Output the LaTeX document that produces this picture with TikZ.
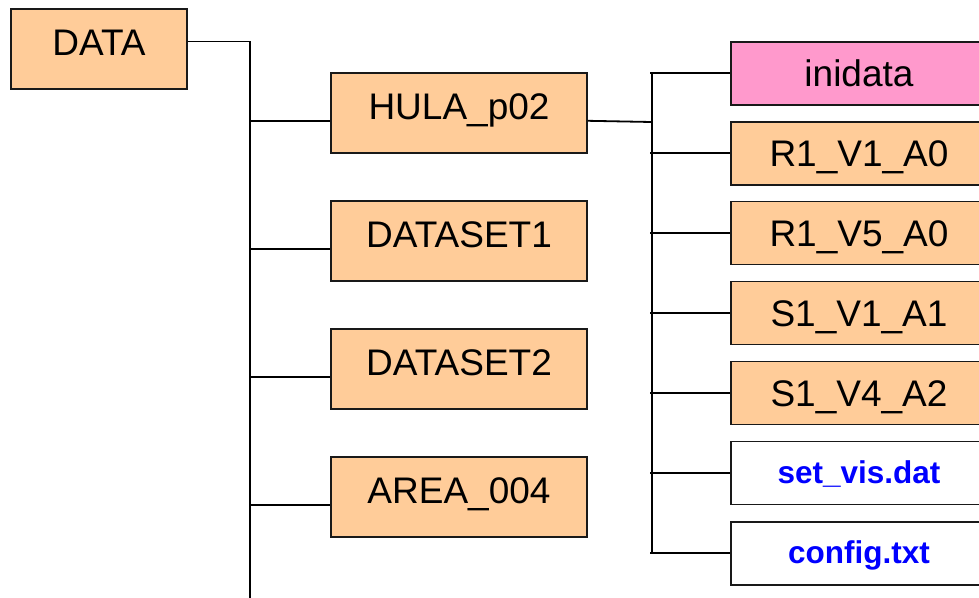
\documentclass[tikz,border=0pt]{standalone}
\usepackage{fontspec}
\setmainfont{Liberation Sans}
\definecolor{peach}{HTML}{FFCC99}
\definecolor{pinkbox}{HTML}{FF99CC}
\definecolor{filetext}{HTML}{0000FF}
\begin{document}
\begin{tikzpicture}[x=1pt,y=-1pt,
  line width=1.8pt,
  folder/.style={draw=black!90, fill=peach, minimum width=256pt, minimum height=80pt,
    inner sep=0pt, font=\fontsize{37}{44}\selectfont, text height=12pt, text depth=0pt},
  rootbox/.style={folder, minimum width=176pt},
  subbox/.style={draw=black!90, fill=peach, minimum width=256pt, minimum height=63pt,
    inner sep=0pt, font=\fontsize{37}{44}\selectfont, text height=26pt, text depth=0pt},
  inibox/.style={subbox, fill=pinkbox},
  filebox/.style={subbox, fill=white, text=filetext,
    font=\fontsize{31.5}{38}\selectfont\bfseries, text height=21pt},
  link/.style={draw=black, line width=1.8pt}]
\useasboundingbox (0,0) rectangle (979,597);
\clip (0,0) rectangle (979,597);

% root folder
\node[rootbox] (data) at (99,49.3) {DATA};

% first level
\node[folder] (hula) at (459,113.3) {HULA\_p02};
\node[folder] (ds1)  at (459,241.3) {DATASET1};
\node[folder] (ds2)  at (459,369.3) {DATASET2};
\node[folder] (area) at (459,497)   {AREA\_004};

% contents of HULA_p02
\node[inibox]  (ini)  at (859,73.3)  {inidata};
\node[subbox]  (r11)  at (859,153.3) {R1\_V1\_A0};
\node[subbox]  (r15)  at (859,233)   {R1\_V5\_A0};
\node[subbox]  (s11)  at (859,313)   {S1\_V1\_A1};
\node[subbox]  (s14)  at (859,393)   {S1\_V4\_A2};
\node[filebox] (vis)  at (859,473)   {set\_vis.dat};
\node[filebox] (cfg)  at (859,553.3) {config.txt};

% trunk of the root folder
\coordinate (t0) at (250,41.5);
\coordinate (tend) at (250,600);
\draw[link] ([yshift=7.8pt]data.east) -- (t0) -- (tend);
\foreach \n in {hula,ds1,ds2,area}{
  \coordinate (in-\n) at ([yshift=-8pt]\n.west);
  \draw[link] (t0 |- in-\n) -- (in-\n);
}

% trunk of HULA_p02
\coordinate (h0) at (652,73.3);
\coordinate (h1) at (652,553.3);
\coordinate (hx) at (650,0);
\coordinate (hj) at (651.5,122);
\draw[link] ([yshift=-7.5pt]hula.east) -- (hj);
\draw[link] (h0) -- (h1);
\foreach \n in {ini,r11,r15,s11,s14,vis,cfg}
  \draw[link] (hx |- \n.west) -- (\n.west);
\end{tikzpicture}
\end{document}
